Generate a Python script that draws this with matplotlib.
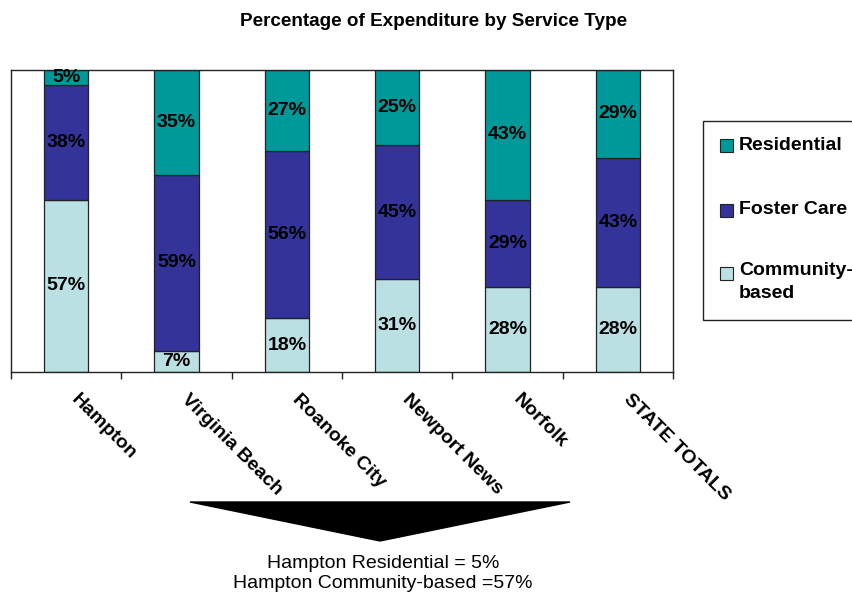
import matplotlib
matplotlib.use('Agg')
import matplotlib.pyplot as plt
import numpy as np
from matplotlib.patches import Rectangle, Polygon
from matplotlib.transforms import ScaledTranslation

plt.rcParams['font.family'] = ['Liberation Sans', 'DejaVu Sans']

# ---- data ----
categories = ["Hampton", "Virginia Beach", "Roanoke City", "Newport News", "Norfolk", "STATE TOTALS"]
community = [57, 7, 18, 31, 28, 28]
foster = [38, 59, 56, 45, 29, 43]
residential = [5, 35, 27, 25, 43, 29]
series_names = ["Residential", "Foster Care", "Community-\nbased"]
title = "Percentage of Expenditure by Service Type"
note_lines = ["Hampton Residential = 5%", "Hampton Community-based =57%"]

col_res = "#009999"
col_fos = "#333399"
col_com = "#BBE0E3"

W, H = 852, 596
fig = plt.figure(figsize=(W / 100, H / 100), dpi=100)


def fx(px):
    return px / W


def fy(py):
    return 1 - py / H


ax = fig.add_axes([fx(11), fy(372), 662 / W, 302 / H])

x = np.arange(len(categories))
c = np.array(community, float)
f = np.array(foster, float)
r = np.array(residential, float)
tot = c + f + r
cs, fs, rs = c / tot * 100, f / tot * 100, r / tot * 100

bw = 0.4
ax.bar(x, cs, bw, color=col_com, edgecolor='#222222', linewidth=0.9)
ax.bar(x, fs, bw, bottom=cs, color=col_fos, edgecolor='#222222', linewidth=0.9)
ax.bar(x, rs, bw, bottom=cs + fs, color=col_res, edgecolor='#222222', linewidth=0.9)

lab_kw = dict(ha='center', va='center', fontsize=14, fontweight='bold', color='black')
for i in range(len(categories)):
    ax.text(x[i], cs[i] / 2, f"{community[i]}%", **lab_kw)
    ax.text(x[i], cs[i] + fs[i] / 2, f"{foster[i]}%", **lab_kw)
    ax.text(x[i], cs[i] + fs[i] + rs[i] / 2, f"{residential[i]}%", **lab_kw)

ax.set_xlim(-0.5, len(categories) - 0.5)
ax.set_ylim(0, 100)
ax.set_yticks([])
for s in ax.spines.values():
    s.set_color('#222222')
    s.set_linewidth(1.0)
ax.set_xticks(np.arange(len(categories) + 1) - 0.5)
ax.set_xticklabels([])
ax.tick_params(axis='x', which='major', length=5, width=1, direction='out', color='#222222')

tr = ax.get_xaxis_transform() + ScaledTranslation(14 / 100, -19 / 100, fig.dpi_scale_trans)
for i, name in enumerate(categories):
    ax.text(x[i], 0, name, transform=tr, rotation=-45, rotation_mode='anchor',
            ha='left', va='top', fontsize=14, fontweight='bold')

# title
fig.text(fx(434), fy(21), title, ha='center', va='center', fontsize=13.6, fontweight='bold')

# legend (manual box)
fig.add_artist(Rectangle((fx(703), fy(320)), 0.3, (320 - 121) / H, transform=fig.transFigure,
                         facecolor='white', edgecolor='#222222', linewidth=1.0))
leg_y = [145, 210, 273]
leg_cols = [col_res, col_fos, col_com]
for name, yy, cc in zip(series_names, leg_y, leg_cols):
    fig.add_artist(Rectangle((fx(720), fy(yy + 6.5)), 13 / W, 13 / H, transform=fig.transFigure,
                             facecolor=cc, edgecolor='#222222', linewidth=0.8))
    if '\n' in name:
        fig.text(fx(739), fy(yy - 11), name, ha='left', va='top',
                 fontsize=14, fontweight='bold', linespacing=1.45)
    else:
        fig.text(fx(739), fy(yy), name, ha='left', va='center',
                 fontsize=14, fontweight='bold')

# arrow
fig.add_artist(Polygon([(fx(190), fy(502)), (fx(570), fy(502)), (fx(380), fy(541))],
                       closed=True, transform=fig.transFigure, facecolor='black', edgecolor='black'))

fig.text(fx(383), fy(563), note_lines[0], ha='center', va='center', fontsize=14)
fig.text(fx(383), fy(584), note_lines[1], ha='center', va='center', fontsize=14)

fig.savefig('out.png', dpi=100)
